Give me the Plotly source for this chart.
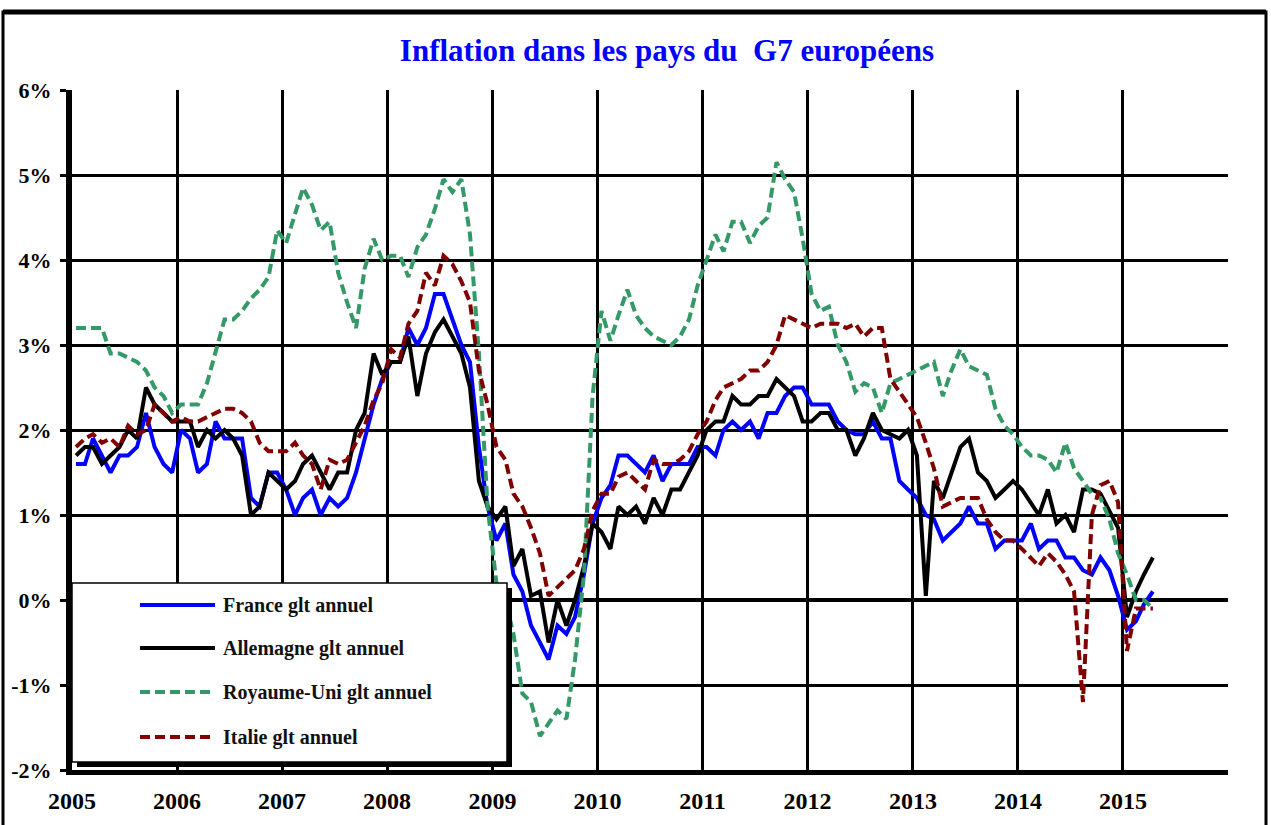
import pandas as pd
import plotly.graph_objects as go

# ---------------- data (annual growth, %) ----------------
months = pd.date_range("2005-01-01", periods=124, freq="MS") + pd.Timedelta(days=14)

france = [
    1.6, 1.6, 1.9, 1.7, 1.5, 1.7, 1.7, 1.8, 2.2, 1.8, 1.6, 1.5,
    2.0, 1.9, 1.5, 1.6, 2.1, 1.9, 1.9, 1.9, 1.2, 1.1, 1.5, 1.5,
    1.3, 1.0, 1.2, 1.3, 1.0, 1.2, 1.1, 1.2, 1.5, 1.9, 2.3, 2.6,
    2.8, 2.8, 3.2, 3.0, 3.2, 3.6, 3.6, 3.3, 3.0, 2.8, 1.8, 1.1,
    0.7, 0.9, 0.3, 0.1, -0.3, -0.5, -0.7, -0.3, -0.4, -0.2, 0.3, 0.9,
    1.2, 1.35, 1.7, 1.7, 1.6, 1.5, 1.7, 1.4, 1.6, 1.6, 1.6, 1.8,
    1.8, 1.7, 2.0, 2.1, 2.0, 2.1, 1.9, 2.2, 2.2, 2.4, 2.5, 2.5,
    2.3, 2.3, 2.3, 2.1, 2.0, 1.95, 1.95, 2.1, 1.9, 1.9, 1.4, 1.3,
    1.2, 1.0, 0.95, 0.7, 0.8, 0.9, 1.1, 0.9, 0.9, 0.6, 0.7, 0.7,
    0.7, 0.9, 0.6, 0.7, 0.7, 0.5, 0.5, 0.35, 0.3, 0.5, 0.35, 0.05,
    -0.35, -0.25, -0.05, 0.1,
]

allemagne = [
    1.7, 1.8, 1.8, 1.6, 1.7, 1.8, 2.0, 1.9, 2.5, 2.3, 2.2, 2.1,
    2.1, 2.1, 1.8, 2.0, 1.9, 2.0, 1.9, 1.7, 1.0, 1.1, 1.5, 1.4,
    1.3, 1.4, 1.6, 1.7, 1.5, 1.3, 1.5, 1.5, 2.0, 2.2, 2.9, 2.65,
    2.8, 2.8, 3.1, 2.4, 2.9, 3.15, 3.3, 3.1, 2.9, 2.5, 1.4, 1.1,
    0.95, 1.1, 0.4, 0.6, 0.05, 0.1, -0.5, 0.0, -0.3, 0.0, 0.4, 0.9,
    0.8, 0.6, 1.1, 1.0, 1.1, 0.9, 1.2, 1.0, 1.3, 1.3, 1.5, 1.7,
    2.0, 2.1, 2.1, 2.4, 2.3, 2.3, 2.4, 2.4, 2.6, 2.5, 2.4, 2.1,
    2.1, 2.2, 2.2, 2.0, 2.0, 1.7, 1.9, 2.2, 2.0, 1.95, 1.9, 2.0,
    1.7, 0.05, 1.4, 1.2, 1.5, 1.8, 1.9, 1.5, 1.4, 1.2, 1.3, 1.4,
    1.3, 1.15, 1.0, 1.3, 0.9, 1.0, 0.8, 1.3, 1.3, 1.25, 1.05, 0.85,
    -0.2, 0.1, 0.3, 0.5,
]

royaume_uni = [
    3.2, 3.2, 3.2, 3.2, 2.9, 2.9, 2.85, 2.8, 2.7, 2.5, 2.4, 2.2,
    2.3, 2.3, 2.3, 2.55, 2.9, 3.3, 3.3, 3.4, 3.55, 3.65, 3.8, 4.35,
    4.2, 4.55, 4.85, 4.65, 4.35, 4.45, 3.85, 3.5, 3.2, 3.9, 4.25, 4.0,
    4.05, 4.05, 3.8, 4.15, 4.3, 4.6, 4.95, 4.8, 4.95, 4.3, 2.9, 1.1,
    0.2, 0.0, -0.4, -1.1, -1.2, -1.6, -1.45, -1.3, -1.4, -0.7, 0.3, 2.4,
    3.4, 3.05, 3.35, 3.65, 3.35, 3.2, 3.1, 3.05, 3.0, 3.1, 3.3, 3.7,
    4.0, 4.3, 4.1, 4.45, 4.45, 4.2, 4.4, 4.5, 5.15, 4.95, 4.8, 4.25,
    3.6, 3.4, 3.45, 3.0, 2.8, 2.45, 2.55, 2.5, 2.2, 2.55, 2.6, 2.65,
    2.7, 2.75, 2.8, 2.4, 2.7, 2.95, 2.75, 2.7, 2.65, 2.25, 2.05, 1.95,
    1.8, 1.7, 1.7, 1.65, 1.5, 1.85, 1.55, 1.4, 1.25, 1.2, 0.95, 0.55,
    0.3, 0.0, 0.0, -0.1,
]

italie = [
    1.8, 1.9, 1.95, 1.85, 1.9, 1.8, 2.05, 1.95, 2.0, 2.3, 2.2, 2.1,
    2.15, 2.1, 2.1, 2.15, 2.2, 2.25, 2.25, 2.2, 2.1, 1.85, 1.75, 1.75,
    1.75, 1.85, 1.7, 1.6, 1.3, 1.65, 1.6, 1.65, 1.85, 2.05, 2.35, 2.55,
    2.95, 2.85, 3.25, 3.4, 3.85, 3.7, 4.05, 3.95, 3.75, 3.5, 2.7, 2.3,
    1.8, 1.65, 1.25, 1.1, 0.85, 0.55, 0.05, 0.15, 0.25, 0.35, 0.6, 1.05,
    1.25, 1.25, 1.45, 1.5, 1.4, 1.3, 1.65, 1.6, 1.6, 1.65, 1.75, 1.95,
    2.1, 2.35, 2.5, 2.55, 2.6, 2.7, 2.7, 2.8, 3.0, 3.35, 3.3, 3.25,
    3.2, 3.25, 3.25, 3.25, 3.2, 3.25, 3.1, 3.2, 3.2, 2.6, 2.45, 2.3,
    2.15, 1.85, 1.55, 1.1, 1.15, 1.2, 1.2, 1.2, 0.95, 0.8, 0.7, 0.7,
    0.6, 0.5, 0.4, 0.55, 0.45, 0.3, 0.1, -1.2, 1.0, 1.35, 1.4, 1.15,
    -0.6, -0.1, -0.1, -0.1,
]

series_names = ["France glt annuel", "Allemagne glt annuel",
                "Royaume-Uni glt annuel", "Italie glt annuel"]
series_colors = ["#0000FF", "#000000", "#339966", "#800000"]
series_dash = ["solid", "solid", "10px,5px", "10px,5px"]

year_ticks = pd.date_range("2005-01-01", "2016-01-01", freq="YS")
year_labels = ["2005", "2006", "2007", "2008", "2009", "2010",
               "2011", "2012", "2013", "2014", "2015", ""]
y_ticks = [-2, -1, 0, 1, 2, 3, 4, 5, 6]
y_labels = ["-2%", "-1%", "0%", "1%", "2%", "3%", "4%", "5%", "6%"]

title_text = "Inflation dans les pays du\u00a0 G7 européens"

# ---------------- geometry helpers (layout only) ----------------
W, H = 1271, 825
L, R, T, B = 72, 43, 90, 55
PW, PH = W - L - R, H - T - B


def px(xp):
    return (xp - L) / PW


def py(yp):
    return (H - B - yp) / PH


SERIF = "Liberation Serif"

fig = go.Figure()
for vals, name, col, dash in zip([france, allemagne, royaume_uni, italie],
                                 series_names, series_colors, series_dash):
    fig.add_trace(go.Scatter(
        x=months, y=vals, mode="lines", name=name,
        line=dict(color=col, width=4, dash=dash),
        showlegend=False, hoverinfo="skip",
    ))

shapes = []
annotations = []

# outer frame of the picture
shapes.append(dict(type="rect", xref="paper", yref="paper",
                   x0=px(3), x1=px(1266), y0=py(840), y1=py(12),
                   line=dict(color="black", width=3), layer="above"))
shapes.append(dict(type="line", xref="paper", yref="paper",
                   x0=px(3), x1=px(1266), y0=py(12), y1=py(12),
                   line=dict(color="black", width=5), layer="above"))

# custom legend box (shadow + white box)
shapes.append(dict(type="rect", xref="paper", yref="paper",
                   x0=px(77), x1=px(512), y0=py(767), y1=py(588),
                   fillcolor="black", line=dict(width=0), layer="above"))
shapes.append(dict(type="rect", xref="paper", yref="paper",
                   x0=px(72), x1=px(507), y0=py(762), y1=py(583),
                   fillcolor="white", line=dict(color="black", width=1.5),
                   layer="above"))
row_y = [605, 648, 692, 737]
for name, col, dash, ry in zip(series_names, series_colors, series_dash, row_y):
    shapes.append(dict(type="line", xref="paper", yref="paper",
                       x0=px(140), x1=px(215), y0=py(ry), y1=py(ry),
                       line=dict(color=col, width=4, dash=dash), layer="above"))
    annotations.append(dict(xref="paper", yref="paper", x=px(221), y=py(ry),
                            xanchor="left", yanchor="middle", showarrow=False,
                            text=name,
                            font=dict(family=SERIF, size=20, color="#111111",
                                      weight="bold")))

fig.update_layout(
    width=W, height=H,
    margin=dict(l=L, r=R, t=T, b=B, autoexpand=False),
    paper_bgcolor="white", plot_bgcolor="white",
    title=dict(text=title_text, x=667 / W, xanchor="center",
               y=1 - 50 / H, yanchor="middle",
               font=dict(family=SERIF, size=31, color="#0000FF", weight="bold")),
    shapes=shapes, annotations=annotations,
    showlegend=False,
)

fig.update_xaxes(
    type="date", range=[year_ticks[0], year_ticks[-1]],
    tickmode="array", tickvals=year_ticks, ticktext=year_labels,
    showgrid=True, gridcolor="black", gridwidth=3,
    showline=True, linecolor="black", linewidth=5,
    ticks="", ticklabelstandoff=5,
    tickfont=dict(family=SERIF, size=24, color="black", weight="bold"),
    zeroline=False, fixedrange=True,
)
fig.update_yaxes(
    range=[-2, 6], tickmode="array", tickvals=y_ticks, ticktext=y_labels,
    showgrid=True, gridcolor="black", gridwidth=3,
    showline=True, linecolor="black", linewidth=6,
    ticks="outside", ticklen=6, tickwidth=3, tickcolor="black",
    ticklabelstandoff=4,
    tickfont=dict(family=SERIF, size=22, color="black", weight="bold"),
    zeroline=True, zerolinecolor="black", zerolinewidth=4,
    fixedrange=True,
)

fig.write_html("out.html",
               config={"displayModeBar": False},
               post_script="document.body.style.margin='0';"
                           "document.body.style.overflow='hidden';")
